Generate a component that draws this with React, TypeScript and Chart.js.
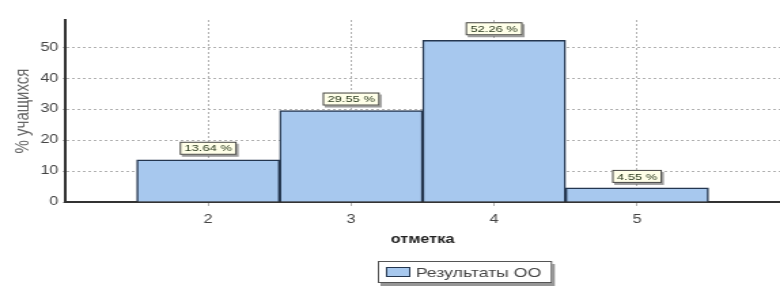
import React, { useEffect, useRef } from "react";
import { Chart, registerables } from "chart.js";

Chart.register(...registerables);

const categories = [2, 3, 4, 5];
const values = [13.64, 29.55, 52.26, 4.55];
const yTicks = [0, 10, 20, 30, 40, 50];
const seriesLabel = "Результаты ОО";
const xTitle = "отметка";
const yTitle = "% учащихся";

const FONT = "'Liberation Sans', Arial, sans-serif";
const BAR_FILL = "#a7c8ee";
const BAR_BORDER = "#24364f";

// The reference picture is horizontally stretched; draw narrower and stretch.
const CANVAS_W = 574;
const CANVAS_H = 291;
const STRETCH = 780 / CANVAS_W;

const labelPlugin = {
  id: "valueBoxes",
  afterDatasetsDraw(chart: any) {
    const ctx = chart.ctx;
    const meta = chart.getDatasetMeta(0);
    ctx.save();
    ctx.font = `9.5px ${FONT}`;
    meta.data.forEach((el: any, i: number) => {
      const txt = values[i].toFixed(2) + " %";
      const w = ctx.measureText(txt).width + 7;
      const h = 13;
      const x = el.x - w / 2;
      const y = el.y - h - 5;
      ctx.fillStyle = "rgba(90,90,90,0.6)";
      ctx.fillRect(x + 1.5, y + 2, w, h);
      ctx.fillStyle = "#ffffe8";
      ctx.fillRect(x, y, w, h);
      ctx.strokeStyle = "#444";
      ctx.lineWidth = 1;
      ctx.strokeRect(x + 0.5, y + 0.5, w - 1, h - 1);
      ctx.fillStyle = "#2a3a1e";
      ctx.textAlign = "center";
      ctx.textBaseline = "middle";
      ctx.fillText(txt, el.x, y + h / 2 + 0.5);
    });
    ctx.restore();
  },
};

const legendPlugin = {
  id: "boxLegend",
  afterDraw(chart: any) {
    const ctx = chart.ctx;
    ctx.save();
    const label = chart.data.datasets[0].label;
    ctx.font = `13px ${FONT}`;
    const tw = ctx.measureText(label).width;
    const w = tw + 36;
    const h = 22;
    const cx = 465 / STRETCH;
    const x = Math.round(cx - w / 2);
    const y = 261;
    ctx.fillStyle = "rgba(80,80,80,0.6)";
    ctx.fillRect(x + 2, y + 3, w, h);
    ctx.fillStyle = "#ffffff";
    ctx.fillRect(x, y, w, h);
    ctx.strokeStyle = "#555";
    ctx.lineWidth = 1;
    ctx.strokeRect(x + 0.5, y + 0.5, w - 1, h - 1);
    ctx.fillStyle = BAR_FILL;
    ctx.fillRect(x + 6, y + 6, 18, 10);
    ctx.strokeStyle = BAR_BORDER;
    ctx.strokeRect(x + 6.5, y + 6.5, 17, 9);
    ctx.fillStyle = "#444";
    ctx.textBaseline = "middle";
    ctx.textAlign = "left";
    ctx.fillText(label, x + 28, y + h / 2 + 1);
    ctx.restore();
  },
};

export default function App() {
  const ref = useRef<HTMLCanvasElement>(null);
  useEffect(() => {
    if (!ref.current) return;
    const chart = new Chart(ref.current, {
      type: "bar",
      data: {
        datasets: [
          {
            label: seriesLabel,
            data: categories.map((c, i) => ({ x: c, y: values[i] })),
            backgroundColor: BAR_FILL,
            borderColor: BAR_BORDER,
            borderWidth: 1.5,
            barPercentage: 1,
            categoryPercentage: 1,
          } as any,
        ],
      },
      options: {
        animation: false,
        responsive: false,
        maintainAspectRatio: false,
        layout: { padding: { top: 20, right: 0, left: 0, bottom: 44 } },
        plugins: {
          legend: { display: false },
          tooltip: { enabled: false },
        },
        scales: {
          x: {
            type: "linear",
            min: 1,
            max: 6,
            offset: false,
            afterBuildTicks: (s: any) => {
              s.ticks = categories.map((v) => ({ value: v }));
            },
            afterFit: (s: any) => {
              s.height = 45;
            },
            ticks: {
              color: "#444",
              font: { family: FONT, size: 12 },
              padding: 6,
            },
            grid: {
              offset: false,
              color: "#b0b0b0",
              tickLength: 4,
              drawTicks: true,
            },
            border: { color: "#333", width: 2, dash: [2, 2] } as any,
            title: {
              display: true,
              text: xTitle,
              color: "#222",
              font: { family: FONT, size: 12, weight: "bold" },
              padding: { top: 2, bottom: 0 },
            },
          },
          y: {
            min: 0,
            max: 58.8,
            afterBuildTicks: (s: any) => {
              s.ticks = yTicks.map((v) => ({ value: v }));
            },
            afterFit: (s: any) => {
              s.width = 48;
            },
            ticks: {
              color: "#444",
              font: { family: FONT, size: 12 },
              padding: 3,
            },
            grid: {
              color: "#b0b0b0",
              tickLength: 2,
            },
            border: { color: "#333", width: 2, dash: [2, 2] } as any,
            title: {
              display: true,
              text: yTitle,
              color: "#666",
              font: { family: FONT, size: 15 },
              padding: { top: 8, bottom: 0 },
            },
          },
        },
      } as any,
      plugins: [labelPlugin, legendPlugin],
    });
    return () => chart.destroy();
  }, []);
  return (
    <div style={{ position: "fixed", left: 0, top: 0, width: 780, height: 291, background: "#fff", overflow: "hidden" }}>
      <div
        style={{
          width: CANVAS_W,
          height: CANVAS_H,
          transform: `scaleX(${STRETCH})`,
          transformOrigin: "0 0",
        }}
      >
        <canvas ref={ref} width={CANVAS_W} height={CANVAS_H} style={{ width: CANVAS_W, height: CANVAS_H, display: "block" }} />
      </div>
    </div>
  );
}
